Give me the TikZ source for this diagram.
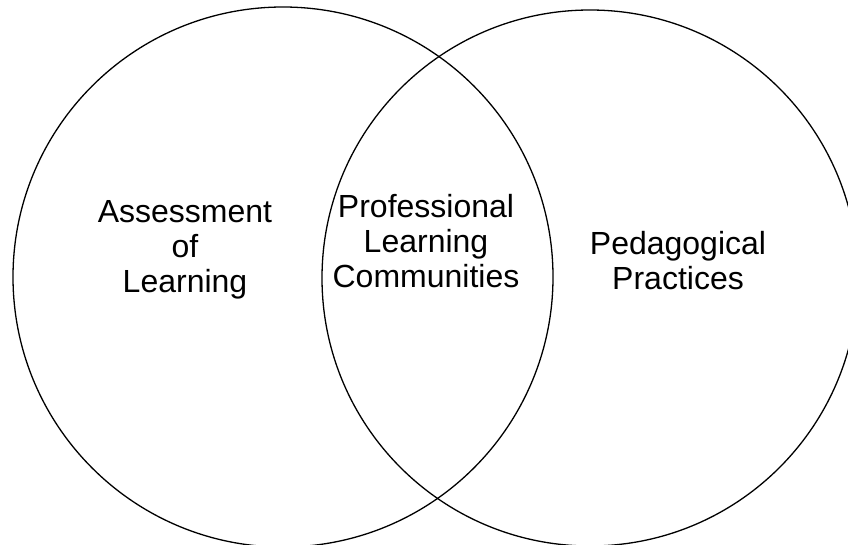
\documentclass[tikz,border=0pt]{standalone}
\usepackage{fontspec}
\setmainfont{Liberation Sans}
\begin{document}
\begin{tikzpicture}[x=1pt, y=-1pt, line width=1.3pt, font=\fontsize{32}{35}\selectfont]
	\useasboundingbox (0,0) rectangle (848,544);
	\clip (0,0) rectangle (848,544);
	\path 
	(283,277) coordinate (L)
	(590,278) coordinate (R)
	;
	\draw (L) circle (270pt);
	\draw (R) circle (268pt);
	\node[align=center] (aol) at (185,250) {Assessment\\of\\Learning};
	\node[align=center] (plc) at (426,241) {Professional\\Learning\\Communities};
	\node[align=center] (pp) at (678,261) {Pedagogical\\Practices};
\end{tikzpicture}
\end{document}
